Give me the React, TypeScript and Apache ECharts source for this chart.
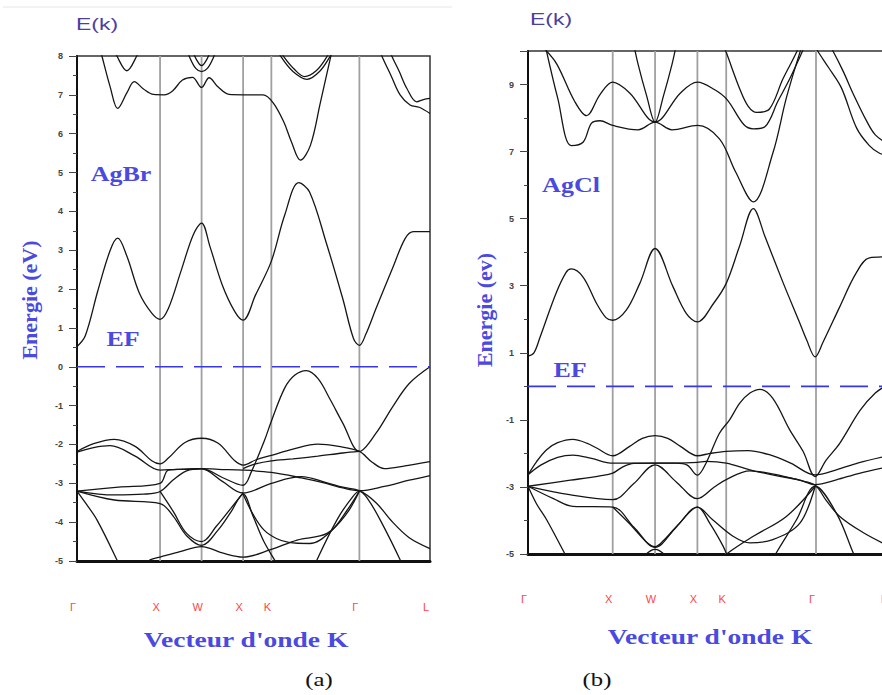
import React, { useEffect, useRef } from "react";
import * as echarts from "echarts";

// High-symmetry points along the k path (shared by both panels)
const kTicks = [0, 1, 1.5, 2, 2.34, 3.4, 4.25];
const kLabels = ["Γ", "X", "W", "X", "K", "Γ", "L"];
const kLines = [1, 1.5, 2, 2.34, 3.4];

const agbrRange = [-5, 8];
const agclRange = [-5, 10];

// ---------- AgBr (a) : conduction bands ----------
const agbrC1 = [[0,0.52],[0.1,0.8],[0.25,1.95],[0.4,3.0],[0.49,3.31],[0.6,2.85],[0.75,1.9],[0.9,1.38],[1,1.22],[1.1,1.5],[1.25,2.45],[1.4,3.4],[1.5,3.7],[1.6,3.1],[1.75,2.1],[1.9,1.42],[2,1.2],[2.15,1.85],[2.34,2.72],[2.5,3.9],[2.67,4.74],[2.8,4.5],[3,3.2],[3.2,1.75],[3.33,0.72],[3.4,0.55],[3.48,0.85],[3.6,1.5],[3.8,2.54],[3.95,3.3],[4.05,3.48],[4.25,3.48]];
const agbrC2 = [[0.2,8.8],[0.3,8.0],[0.4,7.2],[0.49,6.65],[0.6,7.05],[0.69,7.34],[0.8,7.15],[0.92,7.01],[1.05,7.0],[1.15,7.1],[1.27,7.38],[1.39,7.45],[1.5,7.19],[1.59,7.44],[1.7,7.2],[1.83,7.01],[2,7.0],[2.24,7.0],[2.36,6.8],[2.49,6.3],[2.58,5.8],[2.69,5.32],[2.81,5.7],[2.93,6.8],[3.05,7.94],[3.12,8.6]];
const agbrC3 = [[0.42,8.3],[0.48,8.0],[0.6,7.62],[0.72,8.0],[0.78,8.3]];
const agbrC4 = [[1.3,8.3],[1.36,7.95],[1.43,7.68],[1.5,7.6],[1.57,7.68],[1.64,7.95],[1.7,8.3]];
const agbrC5 = [[1.38,8.2],[1.44,7.9],[1.5,7.75],[1.56,7.9],[1.62,8.2]];
const agbrC6 = [[2.38,8.3],[2.45,8.0],[2.6,7.6],[2.77,7.4],[2.92,7.6],[3.05,8.0],[3.12,8.3]];
const agbrC7 = [[2.43,8.2],[2.5,7.95],[2.62,7.65],[2.74,7.47],[2.88,7.62],[3.0,7.95],[3.06,8.2]];
const agbrC8 = [[3.6,8.4],[3.67,8.0],[3.78,7.5],[3.89,7.0],[4.01,6.74],[4.12,6.68],[4.25,6.52]];
const agbrC9 = [[3.72,8.4],[3.79,8.0],[3.88,7.6],[3.97,7.17],[4.09,6.82],[4.17,6.88],[4.25,6.91]];

// ---------- AgBr (a) : valence bands ----------
const agbrV1 = [[0,-2.18],[0.2,-1.98],[0.45,-1.87],[0.7,-2.05],[0.9,-2.42],[1,-2.5],[1.1,-2.35],[1.3,-1.95],[1.5,-1.84],[1.7,-1.97],[1.9,-2.42],[2,-2.53],[2.15,-2.4],[2.34,-2.28],[2.6,-2.12],[2.9,-1.99],[3.15,-2.05],[3.4,-2.18],[3.55,-2.45],[3.7,-2.62],[3.95,-2.55],[4.25,-2.44]];
const agbrV2 = [[0,-2.2],[0.2,-2.08],[0.4,-2.03],[0.7,-2.3],[1,-2.66],[1.2,-2.64],[1.5,-2.62],[1.75,-2.85],[2,-3.05],[2.1,-2.7],[2.26,-1.88],[2.34,-1.4],[2.5,-0.55],[2.62,-0.22],[2.76,-0.1],[2.9,-0.3],[3.05,-0.85],[3.2,-1.45],[3.4,-2.18],[3.6,-1.71],[3.8,-1.03],[4.0,-0.43],[4.25,0]];
const agbrV3 = [[0,-3.2],[0.5,-3.1],[1,-3.0],[1.1,-2.66],[1.3,-2.64],[1.5,-2.62],[1.7,-2.64],[2,-2.66],[2.34,-2.72],[2.7,-2.86],[3.0,-3.0],[3.2,-3.12],[3.4,-3.19],[3.7,-3.08],[4.0,-2.92],[4.25,-2.8]];
const agbrV4 = [[2,-2.62],[2.15,-2.5],[2.34,-2.42],[2.6,-2.37],[2.9,-2.3],[3.2,-2.22],[3.4,-2.18]];
const agbrV5 = [[0,-3.2],[0.45,-3.3],[0.8,-3.28],[1,-3.21],[1.16,-2.91],[1.32,-2.68],[1.5,-2.63],[1.75,-2.95],[2,-3.25],[2.34,-3.0],[2.7,-2.83],[3.0,-2.98],[3.2,-3.1],[3.4,-3.19],[3.6,-3.5],[3.8,-4.0],[4.0,-4.4],[4.25,-4.68]];
const agbrV6 = [[0,-3.2],[0.45,-3.43],[1,-3.52],[1.16,-3.85],[1.32,-4.35],[1.5,-4.6],[1.7,-4.2],[1.85,-3.75],[2,-3.28],[2.12,-3.85],[2.25,-4.5],[2.4,-5.05],[2.45,-5.25]];
const agbrV7 = [[1,-3.21],[1.16,-3.73],[1.32,-4.29],[1.5,-4.5],[1.68,-4.1],[1.85,-3.65],[2,-3.25]];
const agbrV8 = [[0,-3.2],[0.1,-3.5],[0.24,-3.94],[0.48,-4.97],[0.52,-5.2]];
const agbrV9 = [[0.85,-5.05],[0.88,-4.97],[1,-4.9],[1.24,-4.76],[1.5,-4.63],[1.76,-4.8],[2,-4.9],[2.33,-4.71],[2.65,-4.46],[3.01,-4.29],[3.25,-3.77],[3.4,-3.2]];
const agbrV10 = [[2,-3.28],[2.12,-3.8],[2.25,-4.2],[2.4,-4.42],[2.55,-4.52],[2.8,-4.55],[3.05,-4.25],[3.25,-3.7],[3.4,-3.2]];
const agbrV11 = [[2.85,-5.25],[2.89,-4.97],[3.13,-3.94],[3.3,-3.4],[3.4,-3.2],[3.5,-3.4],[3.65,-3.94],[3.89,-4.97],[3.93,-5.25]];

// ---------- AgCl (b) : conduction bands ----------
const agclC1 = [[0,0.9],[0.07,1.0],[0.14,1.45],[0.33,2.77],[0.45,3.4],[0.51,3.5],[0.65,3.26],[0.81,2.47],[0.92,2.05],[1,1.97],[1.16,2.27],[1.32,3.07],[1.5,4.11],[1.71,2.98],[1.87,2.17],[2,1.92],[2.19,2.47],[2.34,3.07],[2.5,4.2],[2.66,5.3],[2.8,4.45],[3.01,3.1],[3.2,1.94],[3.29,1.38],[3.39,0.88],[3.48,1.3],[3.68,2.37],[3.87,3.36],[4.03,3.83],[4.25,3.86]];
const agclC2 = [[0.2,10.2],[0.35,8.6],[0.51,7.18],[0.65,7.28],[0.75,7.85],[0.85,7.92],[1,7.78],[1.3,7.65],[1.5,7.88],[1.7,7.65],[2,7.78],[2.26,7.38],[2.45,6.4],[2.66,5.5],[2.89,6.95],[3.05,8.6],[3.21,9.96],[3.3,10.6]];
const agclC3 = [[0.2,10.05],[0.34,9.61],[0.55,8.5],[0.69,8.07],[0.85,8.7],[1,9.07],[1.2,8.75],[1.5,7.88],[1.8,8.75],[2,9.07],[2.2,8.85],[2.35,8.55],[2.55,7.8],[2.66,7.68],[2.8,7.75],[2.95,8.5],[3.09,9.17],[3.25,10.05]];
const agclC4 = [[1.24,10.3],[1.3,9.6],[1.4,8.67],[1.5,7.88],[1.6,8.67],[1.7,9.6],[1.76,10.3]];
const agclC5 = [[2.3,10.2],[2.34,9.96],[2.5,8.87],[2.6,8.35],[2.7,8.17],[2.85,8.27],[3.01,9.17],[3.17,9.96],[3.2,10.2]];
const agclC6 = [[3.38,10.2],[3.42,10.0],[3.55,9.5],[3.7,8.9],[3.88,7.7],[4.03,7.18],[4.15,6.95],[4.25,6.9]];
const agclC7 = [[3.55,10.2],[3.6,10.0],[3.72,9.4],[3.84,8.72],[4.0,7.9],[4.1,7.5],[4.25,7.23]];

// ---------- AgCl (b) : valence bands ----------
const agclV1 = [[0,-2.64],[0.1,-2.25],[0.22,-1.89],[0.35,-1.68],[0.53,-1.58],[0.7,-1.7],[0.81,-1.84],[1,-2.07],[1.2,-1.79],[1.35,-1.55],[1.5,-1.47],[1.65,-1.55],[1.8,-1.79],[2,-2.07],[2.15,-2.0],[2.34,-1.94],[2.6,-1.92],[2.85,-2.04],[3.1,-2.29],[3.39,-2.64],[3.64,-2.49],[3.9,-2.28],[4.25,-2.07]];
const agclV2 = [[0,-2.64],[0.15,-2.35],[0.35,-2.12],[0.53,-2.05],[0.75,-2.15],[1,-2.29],[1.25,-2.29],[1.5,-2.29],[1.75,-2.29],[1.88,-2.35],[2,-2.65],[2.1,-2.3],[2.26,-1.4],[2.38,-1.0],[2.5,-0.5],[2.62,-0.2],[2.74,-0.09],[2.89,-0.36],[3.09,-1.3],[3.25,-1.95],[3.39,-2.69],[3.52,-2.2],[3.68,-1.7],[3.92,-0.72],[4.1,-0.2],[4.25,0.05]];
const agclV3 = [[0,-2.98],[0.5,-2.8],[0.85,-2.67],[1,-2.59],[1.12,-2.4],[1.25,-2.3],[1.5,-2.29],[1.75,-2.29],[2,-2.27],[2.1,-2.24],[2.34,-2.29],[2.62,-2.49],[2.9,-2.65],[3.2,-2.79],[3.39,-2.93],[3.64,-2.79],[3.9,-2.6],[4.25,-2.4]];
const agclV4 = [[0,-2.98],[0.49,-3.23],[1,-3.38],[1.25,-2.9],[1.5,-2.34],[1.75,-2.85],[2,-3.35],[2.2,-3.0],[2.34,-2.78],[2.62,-2.52],[2.9,-2.62],[3.2,-2.8],[3.39,-2.95],[3.52,-3.4],[3.68,-3.88],[3.95,-4.35],[4.25,-4.75]];
const agclV5 = [[0,-2.98],[0.3,-3.35],[0.53,-3.58],[1,-3.6],[1.25,-4.2],[1.5,-4.8],[1.75,-4.2],[2,-3.6],[2.18,-3.98],[2.42,-4.47],[2.62,-4.67],[2.89,-4.57],[3.21,-4.08],[3.39,-2.98]];
const agclV6 = [[1,-3.6],[1.2,-4.1],[1.4,-4.65],[1.5,-4.78],[1.6,-4.6],[1.8,-4.05],[2,-3.6],[2.15,-4.1],[2.3,-4.75],[2.36,-5.1]];
const agclV7 = [[0,-2.98],[0.1,-3.5],[0.22,-3.98],[0.43,-4.97],[0.48,-5.2]];
const agclV8 = [[2.3,-5.15],[2.36,-4.97],[2.66,-4.47],[3.05,-3.88],[3.39,-2.98]];
const agclV9 = [[2.9,-5.15],[2.93,-4.97],[3.17,-3.98],[3.39,-2.98],[3.64,-3.78],[3.84,-4.97],[3.87,-5.15]];
const agclV10 = [[1.35,-5.1],[1.45,-4.9],[1.5,-4.86],[1.55,-4.9],[1.65,-5.1]];

const agbrBands = [agbrC1, agbrC2, agbrC3, agbrC4, agbrC5, agbrC6, agbrC7, agbrC8, agbrC9,
  agbrV1, agbrV2, agbrV3, agbrV4, agbrV5, agbrV6, agbrV7, agbrV8, agbrV9, agbrV10, agbrV11];
const agclBands = [agclC1, agclC2, agclC3, agclC4, agclC5, agclC6, agclC7,
  agclV1, agclV2, agclV3, agclV4, agclV5, agclV6, agclV7, agclV8, agclV9, agclV10];

const SERIF = "'Liberation Serif', 'DejaVu Serif', serif";
const SANS = "'Liberation Sans', Arial, sans-serif";
const BLUE = "#4a4ae0";

function kFormatter(v: number) {
  const i = kTicks.findIndex((t) => Math.abs(t - v) < 1e-6);
  return i >= 0 ? kLabels[i] : "";
}

function makeX(gi: number, margin: number) {
  return {
    type: "value",
    gridIndex: gi,
    min: kTicks[0],
    max: kTicks[kTicks.length - 1],
    axisLine: { show: true, onZero: false, lineStyle: { color: "#111", width: 3 } },
    axisTick: { show: false },
    splitLine: { show: false },
    axisLabel: {
      customValues: kTicks,
      formatter: kFormatter,
      showMinLabel: true,
      showMaxLabel: true,
      color: "#ff4545",
      fontSize: 11,
      fontFamily: SANS,
      margin,
      padding: [0, 8, 0, 0],
    },
  };
}

function makeY(gi: number, range: number[], interval: number) {
  return {
    type: "value",
    gridIndex: gi,
    min: range[0],
    max: range[1],
    interval,
    axisLine: { show: true, onZero: false, lineStyle: { color: "#111", width: 2 } },
    axisTick: { show: true, length: 8, lineStyle: { color: "#444", width: 1 } },
    minorTick: { show: true, splitNumber: 2, length: 4, lineStyle: { color: "#444", width: 1 } },
    splitLine: { show: false },
    minorSplitLine: { show: false },
    axisLabel: {
      color: "#444",
      fontSize: 9,
      fontWeight: "bold",
      fontFamily: SANS,
      margin: 14,
      showMaxLabel: gi === 0,
    },
  };
}

function panelSeries(gi: number, bands: number[][][], range: number[]) {
  const out: any[] = [];
  kLines.forEach((k) => {
    out.push({
      type: "line",
      xAxisIndex: gi,
      yAxisIndex: gi,
      data: [[k, range[0]], [k, range[1]]],
      showSymbol: false,
      silent: true,
      z: 1,
      lineStyle: { color: "#a0a0a0", width: 1.8 },
    });
  });
  bands.forEach((b) => {
    out.push({
      type: "line",
      xAxisIndex: gi,
      yAxisIndex: gi,
      data: b,
      showSymbol: false,
      smooth: 0.35,
      silent: true,
      z: 3,
      lineStyle: { color: "#151515", width: 1.3 },
    });
  });
  out.push({
    type: "line",
    xAxisIndex: gi,
    yAxisIndex: gi,
    data: [[kTicks[0], 0], [kTicks[kTicks.length - 1], 0]],
    showSymbol: false,
    silent: true,
    z: 4,
    lineStyle: { color: "#3636f0", width: 1.6, type: [28, 11] },
  });
  return out;
}

function txt(text: string, x: number, y: number, font: string, fill: string, extra: any = {}) {
  return {
    type: "text",
    x,
    y,
    silent: true,
    z: 10,
    ...extra,
    style: { text, font, fill, align: "center", verticalAlign: "middle" },
  };
}

export default function App() {
  const ref = useRef<HTMLDivElement>(null);
  useEffect(() => {
    if (!ref.current) return;
    const chart = echarts.init(ref.current, undefined, { renderer: "svg" });
    const option: any = {
      animation: false,
      backgroundColor: "#ffffff",
      grid: [
        { left: 77, top: 56, width: 353, height: 505, show: true, borderColor: "#333", borderWidth: 1.5, backgroundColor: "transparent", containLabel: false, outerBoundsMode: "none" },
        { left: 528, top: 51, width: 360, height: 503, show: true, borderColor: "#333", borderWidth: 1.5, backgroundColor: "transparent", containLabel: false, outerBoundsMode: "none" },
      ],
      xAxis: [makeX(0, 40), makeX(1, 39)],
      yAxis: [makeY(0, agbrRange, 1), makeY(1, agclRange, 2)],
      series: [...panelSeries(0, agbrBands, agbrRange), ...panelSeries(1, agclBands, agclRange)],
      graphic: [
        { type: "line", silent: true, shape: { x1: 3, y1: 7, x2: 452, y2: 7 }, style: { stroke: "#e6e6e6", lineWidth: 1 } },
        // panel (a)
        txt("E(k)", 97, 24, `17px ${SANS}`, "#4d3fa0", { scaleX: 1.35 }),
        txt("AgBr", 121, 174, `bold 20px ${SERIF}`, BLUE, { scaleX: 1.3 }),
        txt("EF", 123, 339, `bold 20px ${SERIF}`, BLUE, { scaleX: 1.3 }),
        txt("Energie (eV)", 29, 300, `bold 22px ${SERIF}`, BLUE, { rotation: Math.PI / 2 }),
        txt("Vecteur d'onde K", 246, 639, `bold 22px ${SERIF}`, BLUE, { scaleX: 1.25 }),
        txt("(a)", 319, 680, `19px ${SERIF}`, "#111", { scaleX: 1.3 }),
        // panel (b)
        txt("E(k)", 551, 19, `17px ${SANS}`, "#4d3fa0", { scaleX: 1.35 }),
        txt("AgCl", 571, 185, `bold 20px ${SERIF}`, BLUE, { scaleX: 1.3 }),
        txt("EF", 570, 370, `bold 20px ${SERIF}`, BLUE, { scaleX: 1.3 }),
        txt("Energie (ev)", 484, 310, `bold 22px ${SERIF}`, BLUE, { rotation: Math.PI / 2 }),
        txt("Vecteur d'onde K", 710, 636, `bold 22px ${SERIF}`, BLUE, { scaleX: 1.25 }),
        txt("(b)", 597, 680, `19px ${SERIF}`, "#111", { scaleX: 1.3 }),
      ],
    };
    chart.setOption(option);
    return () => chart.dispose();
  }, []);
  return <div ref={ref} style={{ position: "fixed", left: 0, top: 0, width: 882, height: 695 }} />;
}
